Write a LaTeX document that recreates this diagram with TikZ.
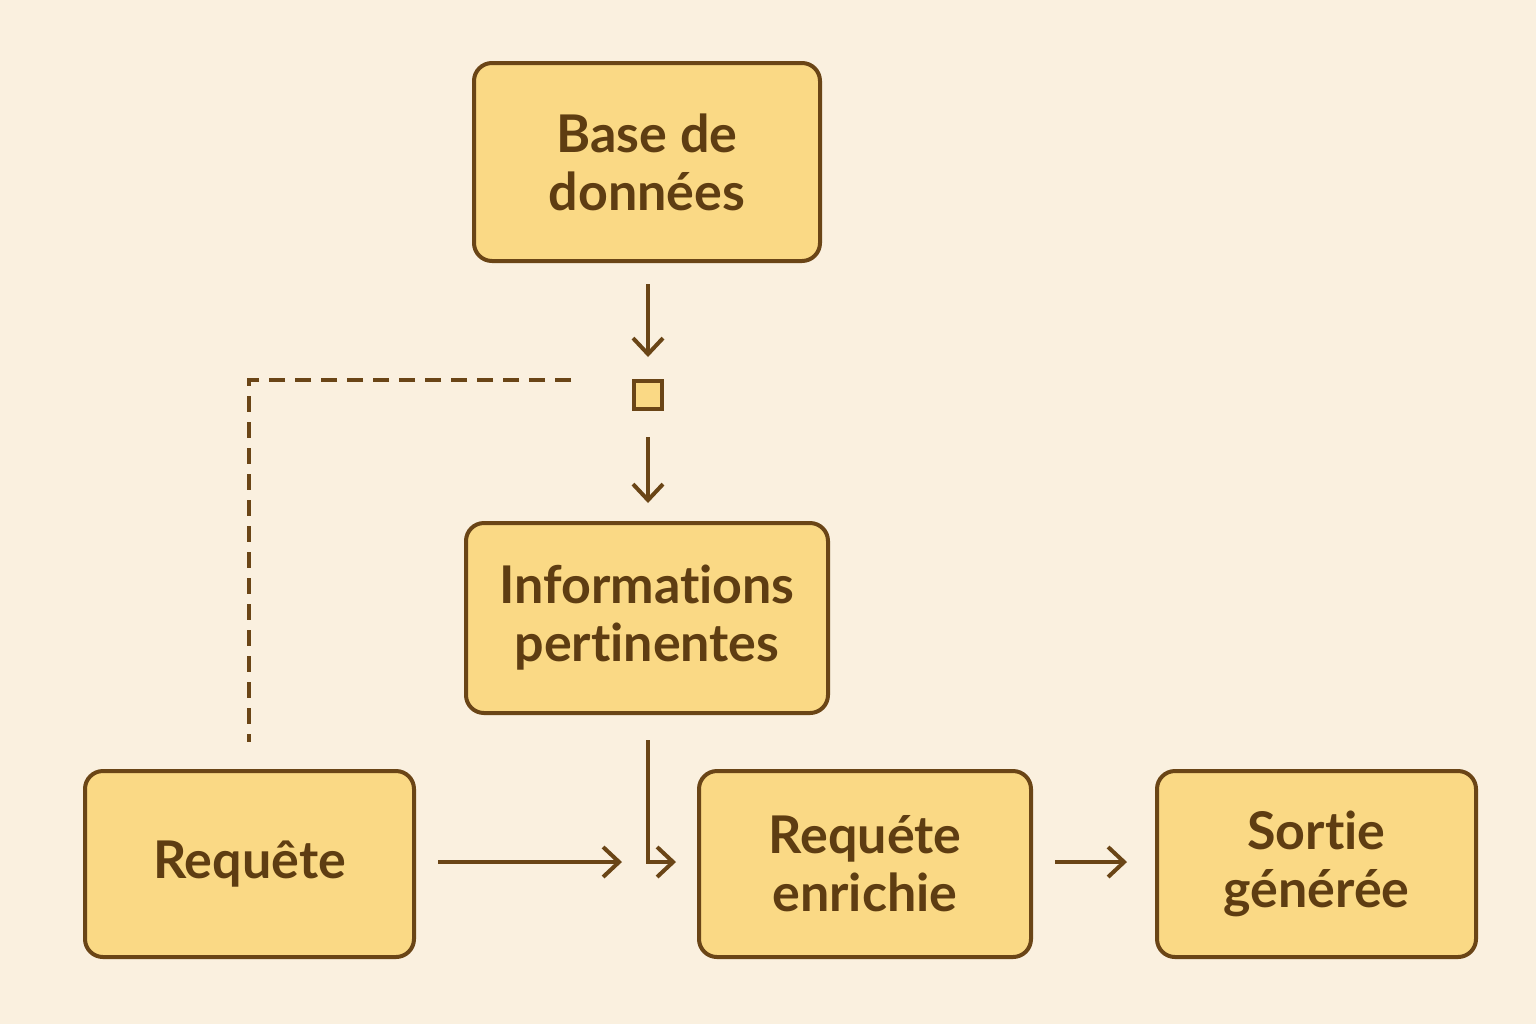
\documentclass[tikz,border=0pt]{standalone}
\usepackage{fontspec}
\setmainfont{Lato}[Ligatures={NoCommon}]
\usetikzlibrary{arrows.meta}
\definecolor{bg}{HTML}{FAF0DF}
\definecolor{boxfill}{HTML}{FAD985}
\definecolor{ink}{HTML}{6A4516}
\definecolor{txt}{HTML}{5E3D12}
\tikzset{
  box/.style={draw=ink, line width=2pt, fill=boxfill, rounded corners=9pt,
    align=center, text=txt, font=\fontsize{26}{29}\selectfont\bfseries, inner sep=0pt},
  conn/.style={draw=ink, line width=2pt, -{Straight Barb[length=8pt,width=15pt,line width=2pt]}},
  dashconn/.style={draw=ink, line width=2pt, dash pattern=on 8pt off 5pt},
}
\begin{document}
\begin{tikzpicture}[x=0.5pt,y=-0.5pt]
\fill[bg] (0,0) rectangle (1536,1024);
\useasboundingbox (0,0) rectangle (1536,1024);
\node[box, minimum width=173pt, minimum height=99pt] (db) at (647,162) {Base de\\données};
\node[box, minimum width=181pt, minimum height=95pt] (info) at (647,618) {Informations\\pertinentes};
\node[box, minimum width=164.5pt, minimum height=93pt] (req) at (249.5,864) {Requête};
\node[box, minimum width=166pt, minimum height=93pt] (enr) at (865,864) {Requéte\\enrichie};
\node[box, minimum width=159.5pt, minimum height=93pt] (out) at (1316.5,864) {Sortie\\générée};
\node[draw=ink, line width=2pt, fill=boxfill, minimum size=14pt, inner sep=0pt] (sq) at (648,395) {};
\coordinate (a1s) at (648,284);
\coordinate (a1e) at (648,357);
\coordinate (a2s) at (648,437);
\coordinate (a2e) at (648,503);
\coordinate (d1) at (571,380);
\coordinate (d2) at (249,380);
\coordinate (d3) at (249,742);
\coordinate (r1) at (438,862);
\coordinate (r2) at (622,862);
\coordinate (l1) at (648,740);
\coordinate (l2) at (648,862);
\coordinate (l3) at (676,862);
\coordinate (o1) at (1055,862);
\coordinate (o2) at (1127,862);
\draw[conn] (a1s) -- (a1e);
\draw[conn] (a2s) -- (a2e);
\draw[dashconn] (d1) -- (d2) -- (d3);
\draw[conn] (r1) -- (r2);
\draw[conn] (l1) -- (l2) -- (l3);
\draw[conn] (o1) -- (o2);
\end{tikzpicture}
\end{document}
